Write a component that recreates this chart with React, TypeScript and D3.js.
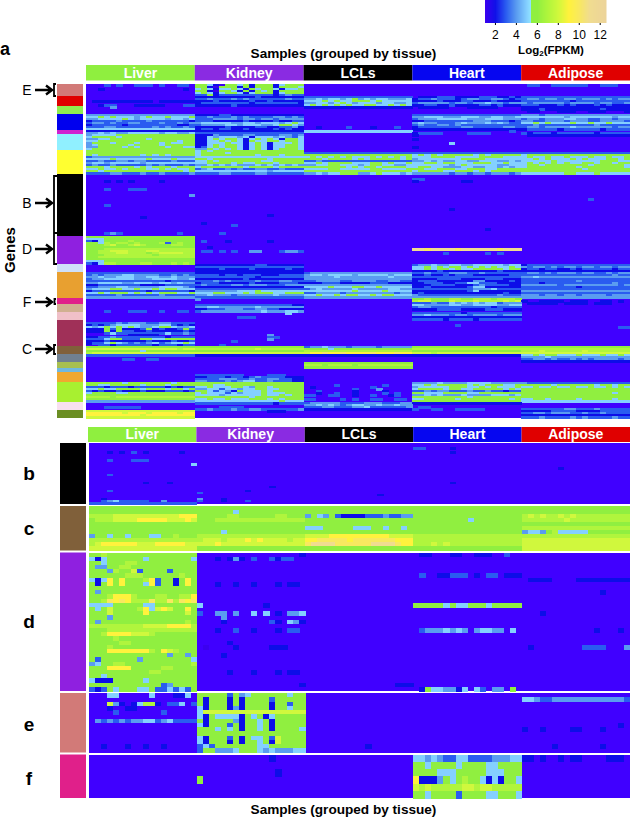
import React, { useEffect, useRef } from 'react';
import * as d3 from 'd3';

// every row: Liver Kidney LCLs Heart Adipose, one character per sample (log2 FPKM, base 13)
// a single character means the whole tissue sits at that level
const tissues = ['Liver', 'Kidney', 'LCLs', 'Heart', 'Adipose'];
const tissueColors = ['#8fef3f', '#8a2be2', '#000000', '#0606f0', '#e00000'];
const legendTicks = [2, 4, 6, 8, 10, 12];

const clusterSizes = [6, 5, 4, 8, 2, 8, 12, 31, 14, 4, 13, 3, 4, 4, 13, 4, 4, 3, 2, 5, 10, 4, 4];
const clusterColors = ['#d27a78', '#e00000', '#90ee50', '#0000ee', '#d020d0', '#90f0ff', '#ffff30', '#000000', '#8f20e0', '#cfe0f8', '#e8a030', '#e0208a', '#d0b090', '#f0c0c8', '#a03058', '#80603a', '#708090', '#a8c050', '#70b8e0', '#f0a830', '#a8f030', '#f8e0f0', '#6b8e23'];

const overviewRows = [
  '000303003330300330 665216656266625666 0 0 033003333330033300',
  '0 662166626266626665 0 0 0',
  '002000000000000020 565255652656652556 0 0 0',
  '0 662166526265626666 0 0 0',
  '0 565256652566625666 0 0 0',
  '0 336233333333323433 0 0 0',
  '0 222222222232222222 333333333333333333 022233322223332232 333333333333333333',
  '0 334333434333333433 445455456454554445 233433323443344323 344344344344434344',
  '022222222220222222 222322222322322222 555656556665655555 222232223322232222 333333332333333333',
  '0 233333333233333332 445545654555455445 344444344344544344 434444434444344334',
  '002330002222200033 222222322222222222 565656565566556565 223322322223323222 333222323222323222',
  '000040000000000000 0 222222222222222222 022222000222220000 222222222222222222',
  '0 0 0 0 222322222222232222',
  '0 0 0 0 022000222002220002',
  '0 0 0 0 0',
  '444444444444444444 222233222222222222 0 333333333333333333 444344444444444444',
  '556565554565565556 334333434333344343 0 445554445554455445 555555545555555455',
  '445555654555545545 333444434434434444 0 344455555444555444 344344455443344344',
  '233334333343333332 333222223222232233 0 223333333344433323 443344434443344443',
  '344343344333433434 455555445545554565 0 454433345444545433 556565556556556555',
  '233333233333333223 344445545554456654 0 343344343333333333 334333333333433333',
  '333443333334343343 222223222233223342 002000030002000300 233333334433333443 344344445444444344',
  '555555555555555555 233233223222232322 0 222222222222222222 233333233333323333',
  '222222222222222222 222222222222222222 555555555555555555 000000000000000030 0',
  '445454455555455445 333333333333333333 0 233330000333300000 323332333333233333',
  '455556666666666666 222433334433334434 0 200000000000000000 022222222222222222',
  '566665666666666666 225455545255545435 0 0 0',
  '445566666656666666 225656652565652665 0 200000000000000000 0',
  '556666666666666566 225565652655665665 0 0 0',
  '466656665666565566 225556552565255565 0 000000500000000000 0',
  '456666656666566666 225656652565255665 0 0 0',
  '446666565666656655 235656652565255665 0 200000000000000000 0',
  '566666666666666666 446565652565256665 0 0 0',
  '666666666666666666 565666666666666666 0 0 0',
  '666666666666666666 566665666666666666 333333333333333333 333333333333333333 333333333333333333',
  '656666666565656666 566666666656665666 666666666666666666 565656666656566666 566666666666666666',
  '344444444444444444 555555555555555555 565656565556565656 555666655556666555 565565565556556556',
  '555565555565556555 665666666666566666 666566665656666656 455555556666555555 556565556565556656',
  '334334434433334333 556566666665566666 334333333333333333 445454455445554454 555556555555566655',
  '455455555455555555 556666565566656666 556566665556656556 556656655566655655 565656565566566566',
  '343343333343433343 445454544454545454 445566555456655445 555555456555554455 566566666665666665',
  '666566665656665666 566666665666656666 666666656566566665 566554445544554545 566666666566666665',
  '556556566655656556 345334343344334333 555566555556655556 665566655666556666 666666666656666666',
  '665666666666666656 555555555555455555 666666666666666666 566665566656566666 666666666666666666',
  '333344333433433334 333344333344333333 445455666445655545 444444344344344434 555555566555655555',
  '0 0 0 0 0',
  '0 0 0 0 0',
  '0 0 0 330000000000000000 0',
  '000202020000200000 0 0 200000002200000000 0',
  '0 0 0 0 0',
  '0 0 0 0 0',
  '0 0 0 0 0',
  '000300033300000000 0 0 0 0',
  '0 0 0 0 0',
  '0 0 0 0 0',
  '000000000000000004 0 0 0 0',
  '0 0 0 0 0',
  '0 0 0 0 000000000003000000',
  '0 0 0 0 0',
  '0 0 0 0 0',
  '000300000000000000 0 0 0 0',
  '0 0 0 0 0',
  '0 0 0 000000200000000000 0',
  '0 0 0 0 0',
  '0 0 0 0 0',
  '0 000000000000200000 0 0 0',
  '000000000200000000 0 0 0 0',
  '0 0 0 0 0',
  '0 0 0 0 0',
  '0 020000000000000000 0 0 0',
  '0 000000300000000000 0 0 0',
  '0 0 0 0 0',
  '0 0 0 000000000000200000 0',
  '0 0 0 0 0',
  '000343000000000300 000030000000000000 0 0 0',
  '0 0 0 0 0',
  '666666666666666666 0 0 0 0',
  '555666666666666666 0 0 0 0',
  '325666676666666666 030002000000200000 0 0 0',
  '665767767666736766 0 0 0 0',
  '666786678766667766 0 0 0 0',
  '666666666666666666 002000000000000000 0 0 0',
  '666777777777777777 0 0 bbabbbbabbbbbbabbb 0',
  '667788877788777777 033030300440003443 0 0 0',
  '667778877767888877 0 0 000003000000303000 0',
  '666777777776777777 0 0 0 0',
  '667777777777777777 0 0 0 0',
  '666666666666666666 0 0 0 0',
  '555666666666666666 0 0 0 0',
  '325776666776667676 0 0 0 0',
  '0 222222222233222222 0 344544554455555455 233333333333333333',
  '0 333333333333333333 0 556565665656565565 434434344344344344',
  '0 222232222322222322 0 556566565566666566 233233223233333233',
  '0 222222222222222222 0 222232222222223222 222222222222222222',
  '333333333333333333 222222222222222222 344444444444444444 334333444334333333 344343444344334344',
  '343444554444334343 333323323332223333 455455554555554555 223223233322222233 333333333333333433',
  '445445554455445444 333333333323333333 444445444444445444 333333333333333333 445444444444444444',
  '344555554445555445 222222223222222222 444444444444444444 222233332222333222 333333333333333333',
  '333333333333323333 333434333343334433 334444334444334433 233322222244222232 333333333433333333',
  '445555445554554544 233322222322223332 222333222223332222 223332233553332222 333233333333333433',
  '223333333222233333 343333443444333444 444444444444444444 222333322234333322 444444344444444434',
  '334445544444555543 222222222222222222 555565556655655555 223222222355222222 333333333233333333',
  '455566556556566555 333333333333333333 345444445444445544 333333333344453333 333333333333333333',
  '233333333323333332 444444455565555555 555555556555565555 222222222352222222 444444444444444444',
  '556566656565666556 555665556566655666 334444344444444344 232222222222222322 333333333333333333',
  '333334333333433333 445444344444454444 556556566556566555 433333333333334333 444344344344443444',
  '444444444444444444 333333333333333333 444444444444444444 444444444444444444 444444444444444444',
  '0 400000000000000000 0 667666776677767776 0',
  '0 0 0 788666877787777878 200222202220022020',
  '0 0 0 333433545454553444 022222022220222000',
  '0 333333333333333322 0 554444554455554455 0',
  '0 445544444454444444 0 344333333333323333 0',
  '0 223334443344332222 0 222233332222333222 0',
  '000300033300300330 344444444445444554 0 0 0',
  '0 000000000000000500 0 333333332333333333 0',
  '0 0 0 445444344344443444 0',
  '0 000000033300000000 0 222222222222222222 0',
  '0 0 0 333332333323333333 0',
  '0 0 0 0 0',
  '333334344433443333 0 0 0 0',
  '232345555444553232 0 0 000000030000000000 0',
  '545656565445665445 0 0 0 000000000000000033',
  '222636222362322363 0 0 0 0',
  '222626332232222232 0 0 0 0',
  '000353333333353343 0 0 0 0',
  '000000022222000000 000000000000400000 0 0 0',
  '223343333333323333 000000000000330000 0 0 0',
  '333566333665566666 000000000000400000 0 0 0',
  '222322222232223223 000000300000000000 0 0 0',
  '233565434345345565 0 0 0 0',
  '003323333332333233 000030000000000000 0 0 0',
  '666666666666666666 666666666666666666 344544434444344444 666666666666666666 666666666666666666',
  '888888888888888788 777777777787777777 666656666666666666 777777777777777777 777777777777777777',
  '666666666566666666 666666666666666666 777777777777777777 666666666666666666 777877777787777777',
  '788888888888888888 888888888888888888 899a99a9999a999a99 888788888888888888 888888888888888888',
  '333333333333333333 222222222222222222 222222222222222222 222222222222222222 556566555655565565',
  '000000000000000000 0 0 0 444454444444444444',
  '000000330033000000 0 0 0 334434334343444434',
  '0 0 0 0 222222222222222222',
  '0 0 666666666666666666 0 0',
  '0 0 777677776777777777 0 0',
  '0 0 666666666666666666 0 0',
  '0 0 0 0 0',
  '0 0 0 0 0',
  '0 000000000000000000 0 0 0',
  '0 333333330000333000 0 0 0',
  '0 223332332343333222 0 0 0',
  '0 333344433433443322 0 0 0',
  '0 443334345533433322 0 0 0',
  '666666566666665666 666666666666666666 000000000000000000 444454444555544444 433333333333333333',
  '665566666566656666 666556666666666666 000003000000030000 556566666565666556 666665666666566566',
  '333233323333323233 556555665466566666 020000000003000000 455555666556565556 556556556556556565',
  '556556666566656656 445535545566556666 000000003000400000 566665665566666565 666666666666666666',
  '323223222322233323 665354265556566666 003000002000020000 334344333433433233 666666666666666666',
  '566665566666666666 565553545556555666 002003002000030300 665556666556666666 666666666666666566',
  '666666666666666666 555545555556556566 330033002003002300 445454445444455545 666666666666666666',
  '777767777777777777 666666666566666666 0 666666666566666666 666666666666666666',
  '666666666666666666 556556555666565666 330000303003300330 556666656666666656 556656666566666566',
  '444444444444444444 555555555555556555 0 666666666666666666 555555555555555555',
  '0 333333333333323333 344444333344433344 222222222222222222 0',
  '0 0 445454345544544544 0 0',
  '000333333000000000 000033330000000000 333443334453333334 033000000000000000 0',
  '0 334333433443333334 222222222222222222 300330033333000000 333333344333433333',
  '888888888888888888 000000000000222000 0 0 222223333222233333',
  '999999899989999899 0 0 0 334434443343343333',
  '999999999899999999 0 0 0 222222222222222222',
  '888888888888888888 0 0 0 333433334343333433',
];

const panelBRows = [
  '0 0 0 0 0',
  '0 0 0 0 0',
  '0 0 0 330000200000000000 0',
  '0 0 0 0 0',
  '000202030200000200 0 0 000000200000000000 0',
  '0 0 0 0 0',
  '0 0 0 0 0',
  '0 0 0 0 0',
  '000300033300000000 0 0 0 0',
  '0 0 0 0 0',
  '000000000000000005 0 0 0 0',
  '0 0 0 0 0',
  '0 0 0 0 000000200000000000',
  '0 0 0 0 0',
  '0 0 0 0 0',
  '000300000000000000 0 0 0 0',
  '0 0 0 0 0',
  '0 0 0 0 0',
  '0 0 0 0 0',
  '000000000200020000 0 0 000000200000000000 0',
  '0 0 0 0 0',
  '0 000000000000200000 0 0 0',
  '0 0 0 0 0',
  '000300000000000000 000000002000000000 0 0 0',
  '0 300000000000000000 0 0 0',
  '0 0 000000000000200000 0 0',
  '0 0 0 0 0',
  '002000000000000000 400020000000000000 0 0 0',
  '003453333300400000 300020003000000000 0 0 0',
  '333333333333333333 0 0 0 0',
];

const panelCRows = [
  '666666666666666666 666666666666666666 666666666666666666 666666666666666666 666666666666666666',
  '666666666666666666 666666566666666666 666666666666666666 666666666666666666 666666666666666666',
  '777788888888888999 666667766666677666 465463222233343344 666666666666666666 787877878777777777',
  '677788889999988898 666777777777777777 666666666666666666 666666666566666666 777777787777777777',
  '666666666666666666 666666666666666666 666666666666666666 666666666666666666 666666666666666666',
  '666666666666666666 666666666666666666 555666665556656656 666666666666666666 777777777777777777',
  '666666666666666666 666656666666666666 666666666666666666 666666666666666666 455467555556666666',
  '466566566655667666 777777777777777777 888899999999998888 777777777777777777 777777777777777777',
  '777777777777777777 788878889898888788 99aaaaa9aaaaaaa999 777777777777777777 888888888888888888',
  '789999998889999988 888988888888888888 abbbbaaaaaabbbba99 777878777777777777 888888888888888888',
  '888888888888888888 666666666666666666 666666666666666666 666666666666666666 888888888888888888',
];

const panelDRows = [
  '667666666666666666 000000000000000002 0 022000220022200300 0',
  '525666666566666665 000202420300323300 0 0 0',
  '665666776666666666 0 0 0 0',
  '644667766666666666 0 0 0 0',
  '666476683666636666 0 0 0 0',
  '666666777666666766 0 0 030022333020330222 0',
  '525969666793662696 0 0 0 022220000222222222',
  '626969666593662696 000200200200020220 0 0 0',
  '666666666666666666 0 0 0 0',
  '646666666666666666 0 0 0 000000000000020000',
  '666799976667766779 0 0 0 0',
  '667a9a9777a77a7a9a 0 0 0 0',
  '555566666556666666 500000000002000000 0 666665655666566666 0',
  '656866667958986696 0 0 0 0',
  '666866666966666686 300440400505020445 0 0 002000000000000',
  '666466666666666666 000040000000000000 0 0 0',
  '646666666666666676 000020000000320542 0 0 0',
  '777777777888899997 0 0 0 0',
  '666777777777777777 000200300200020330 0 034445454045544050 000000000000200020',
  '667999988876666666 0 0 0 0',
  '666676666666666666 0 0 0 0',
  '666667766666666666 000002000000000000 0 0 0',
  '666766666666666666 010000200000222000 0 0 020000000033330004',
  '666999999976987666 000000000000000000 0 0 0',
  '666666666666646646 000020000000000000 0 0 0',
  '636666664666666665 0 0 0 0',
  '456677666666666667 0 0 0 0',
  '666999966666776666 000000000000000000 0 0 0',
  '666666666677666666 000002000200020220 0 0 0',
  '665666666666666666 0 0 0 0',
  '522266666566666666 0 0 0 0',
  '666666666666346666 000000000000000002 000000000000000222 0 0',
  '323656665563353536 0 0 026554425053044060 0',
];

const panelERows = [
  '000550000050002250 666663645666666566 0 0 0',
  '000000000000000000 626662626666366666 0 0 554334444444444443',
  '000842025772033503 626662626666266366 0 0 0',
  '000200220000000000 526662426666266566 0 0 0',
  '000030000000300000 588888888888888888 0 0 0',
  '0 526555526562566666 0 0 0',
  '043434344553453333 626666426656266666 0 0 0000000000000000',
  '0 526663626656266666 0 0 000000000000000020',
  '0 666565626656266665 0 0 200200002200020000',
  '0 666666666666666666 0 0 0',
  '0 526663626556386666 0 0 0',
  '0 526662626656286666 0 0 0',
  '002000200200200000 353666666655666666 000000000020000000 0 000002000000020000',
  '0 366444566654544455 0 0 0',
];

const panelFRows = [
  '0 000000000000200000 0 554543355333344455 220200202200002220',
  '0 0 0 665666656666556666 0',
  '0 000000000000020000 0 666655566666555666 0',
  '0 600000000000000000 0 922246567665252665 0',
  '0 0 0 878777778878877777 0',
  '0 0 0 665666636666556665 0',
];

const detailPanels = [
  { label: 'b', rows: panelBRows, color: '#000000', top: 443, bottom: 504, labelY: 473 },
  { label: 'c', rows: panelCRows, color: '#80603a', top: 506, bottom: 550.5, labelY: 528 },
  { label: 'd', rows: panelDRows, color: '#8f20e0', top: 552.5, bottom: 691, labelY: 621 },
  { label: 'e', rows: panelERows, color: '#d27a78', top: 693, bottom: 752.5, labelY: 724 },
  { label: 'f', rows: panelFRows, color: '#e0208a', top: 754.5, bottom: 798, labelY: 778 },
];

const geneMarks = [
  { letter: 'E', y: 90 },
  { letter: 'B', y: 203 },
  { letter: 'D', y: 249 },
  { letter: 'F', y: 302 },
  { letter: 'C', y: 349 },
];

const SAMPLES_PER_TISSUE = 18;
const sampleIds = d3.range(tissues.length * SAMPLES_PER_TISSUE);

const colorScale = d3.scaleLinear<string>()
  .domain([0, 1, 2, 3, 4, 5, 5.39, 5.4, 6, 7, 8, 9, 10, 11, 12.6])
  .range(['#4000ff', '#3a00f0', '#1010e8', '#2a5cf0', '#5a9cf0', '#84d0ff', '#90e4ff', '#90ef40', '#90ef40', '#b0f53c', '#d0f83c', '#fff23c', '#f8e860', '#f0dc90', '#ecd39a'])
  .clamp(true);

function parseRow(row: string): number[] {
  const out: number[] = [];
  row.split(' ').forEach((token) => {
    for (let i = 0; i < SAMPLES_PER_TISSUE; i++) {
      const ch = token[Math.floor((i * token.length) / SAMPLES_PER_TISSUE)];
      out.push(parseInt(ch, 13));
    }
  });
  return out;
}

function Heat({ rows, x0, x1, y0, y1 }: { rows: string[]; x0: number; x1: number; y0: number; y1: number }) {
  const x = d3.scaleBand<number>().domain(sampleIds).range([x0, x1]);
  const y = d3.scaleBand<number>().domain(d3.range(rows.length)).range([y0, y1]);
  return (
    <g shapeRendering="crispEdges" filter="url(#soft)">
      <rect x={x0} y={y0} width={x1 - x0} height={y1 - y0} fill={colorScale(0)} />
      {rows.map((row, r) =>
        parseRow(row).map((v, s) =>
          v === 0 ? null : (
            <rect key={r + '-' + s} x={x(s)} y={y(r)} width={x.bandwidth() + 0.5} height={y.bandwidth() + 0.5} fill={colorScale(v)} />
          )
        )
      )}
    </g>
  );
}

function TissueBand({ x0, x1, y0, y1 }: { x0: number; x1: number; y0: number; y1: number }) {
  const x = d3.scaleBand<string>().domain(tissues).range([x0, x1]);
  return (
    <g>
      {tissues.map((t, i) => (
        <g key={t}>
          <rect x={x(t)} y={y0} width={x.bandwidth()} height={y1 - y0} fill={tissueColors[i]} />
          <text x={x(t)! + x.bandwidth() / 2} y={y1 - 3} textAnchor="middle" fill="#fff" fontSize={14} fontWeight="bold">{t}</text>
        </g>
      ))}
    </g>
  );
}

export default function App() {
  const legendAxis = useRef<SVGGElement>(null);
  const legendX = d3.scaleLinear().domain([1.05, 12.6]).range([485, 606]);

  useEffect(() => {
    const g = d3.select(legendAxis.current);
    g.call(d3.axisBottom(legendX).tickValues(legendTicks).tickSize(2).tickPadding(5) as any);
    g.select('.domain').remove();
    g.selectAll('text').attr('font-size', 12).attr('font-family', 'Liberation Sans Narrow, Liberation Sans, Arial, sans-serif');
  }, []);

  const clusterY = d3.scaleLinear().domain([0, overviewRows.length]).range([84, 418]);
  const clusterEnds = d3.cumsum(clusterSizes);

  return (
    <svg width={630} height={818} fontFamily="Liberation Sans, Arial, sans-serif" style={{ position: 'absolute', left: 0, top: 0, display: 'block' }}>
      <defs>
        <filter id="soft" x="0" y="0" width="100%" height="100%">
          <feGaussianBlur stdDeviation="0.55" />
        </filter>
      </defs>
      <rect width={630} height={818} fill="#fff" />

      {/* colour key */}
      {d3.range(485, 606).map((px) => (
        <rect key={px} x={px} y={0} width={1.5} height={23} fill={colorScale(legendX.invert(px))} />
      ))}
      <g ref={legendAxis} transform="translate(0,23)" />
      <text x={551} y={54} textAnchor="middle" fontSize={11.5} fontWeight="bold">
        Log<tspan fontSize={8} dy={2}>2</tspan><tspan dy={-2}>(FPKM)</tspan>
      </text>

      {/* overview */}
      <text x={0} y={55} fontSize={18} fontWeight="bold">a</text>
      <text x={343.5} y={58} textAnchor="middle" fontSize={13.6} fontWeight="bold">Samples (grouped by tissue)</text>
      <TissueBand x0={86} x1={630} y0={65} y1={80.5} />
      {clusterSizes.map((_, i) => (
        <rect key={i} x={57} y={clusterY(i === 0 ? 0 : clusterEnds[i - 1])} width={26} height={clusterY(clusterEnds[i]) - clusterY(i === 0 ? 0 : clusterEnds[i - 1])} fill={clusterColors[i]} />
      ))}
      <Heat rows={overviewRows} x0={86} x1={630} y0={84} y1={418} />
      <text transform="translate(14.5,250) rotate(-90)" textAnchor="middle" fontSize={15} fontWeight="bold">Genes</text>

      {geneMarks.map((m) => (
        <g key={m.letter}>
          <text x={27} y={m.y + 5} textAnchor="middle" fontSize={14} fontFamily="Liberation Sans Narrow, Liberation Sans, Arial, sans-serif">{m.letter}</text>
          <path d={`M35,${m.y}H52M46,${m.y - 4.5}L52,${m.y}L46,${m.y + 4.5}`} fill="none" stroke="#000" strokeWidth={2.4} />
        </g>
      ))}
      <path d="M56,84H54V96H56M57,176H54V264H57M54,233H57M56,299H54.5V304H56M56,345H54V354H56" fill="none" stroke="#000" strokeWidth={1.8} />

      {/* cluster close-ups */}
      <TissueBand x0={88} x1={630} y0={427} y1={442} />
      {detailPanels.map((p) => (
        <g key={p.label}>
          <rect x={60} y={p.top} width={26} height={p.bottom - p.top} fill={p.color} />
          <text x={29} y={p.labelY + 7} textAnchor="middle" fontSize={19} fontWeight="bold">{p.label}</text>
          <Heat rows={p.rows} x0={88.5} x1={630} y0={p.top} y1={p.bottom} />
        </g>
      ))}
      <text x={343.5} y={814} textAnchor="middle" fontSize={13.6} fontWeight="bold">Samples (grouped by tissue)</text>
    </svg>
  );
}
